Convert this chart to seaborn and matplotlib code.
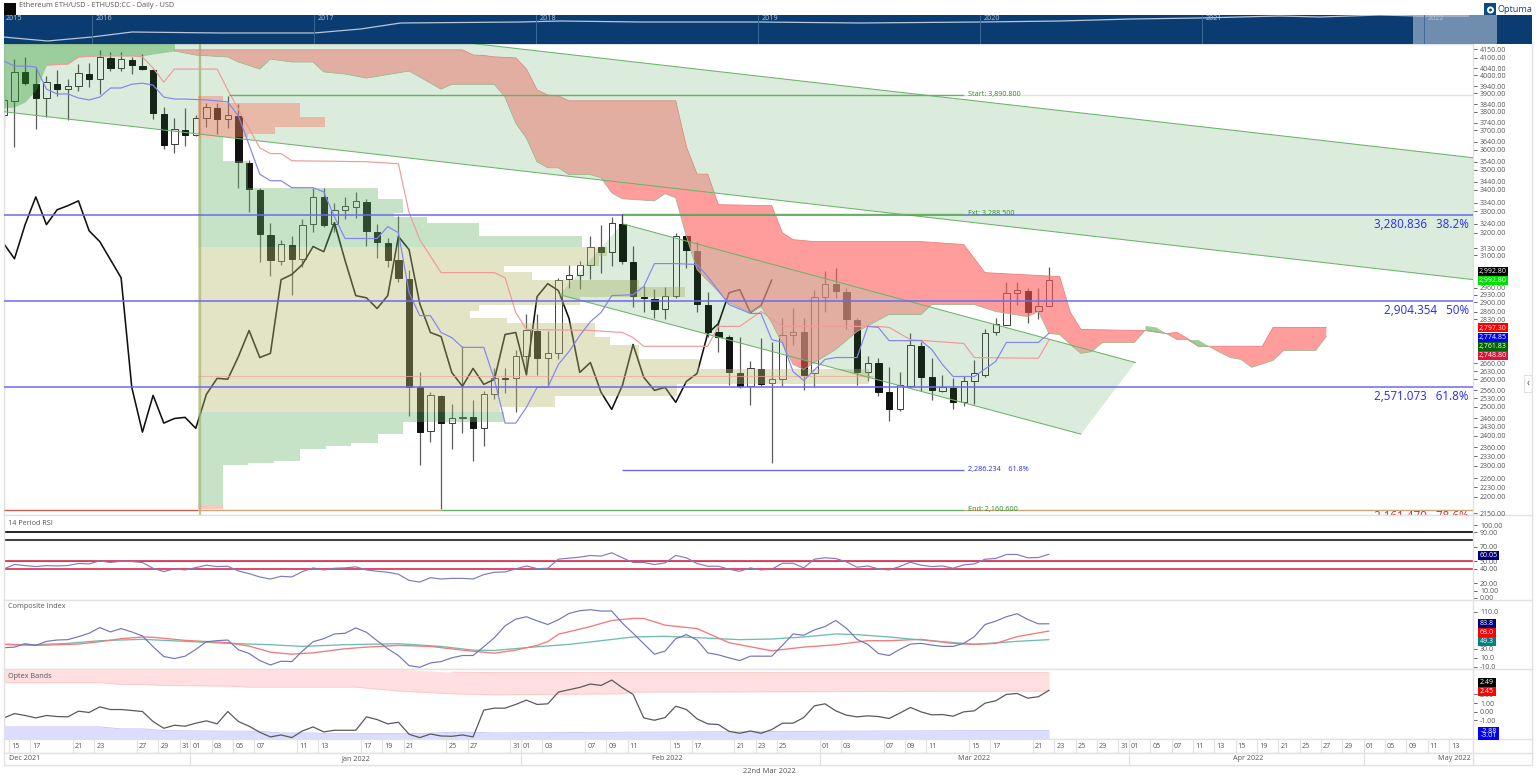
import matplotlib
matplotlib.use("Agg")
import matplotlib.pyplot as plt
from matplotlib.patches import Rectangle, Ellipse
import seaborn as sns

sns.set_theme(style="white")
plt.rcParams['font.family'] = ['Open Sans', 'DejaVu Sans']

W, H = 1536, 783

# ---------- daily OHLC, day 0 = 1 Jan 2022 ----------
first_day = -18
opens = [3781,3857,4020,3950,3874,3950,3923,3939,4008,3980,4100,4042,4088,4053,4031,3787,3629,3702,3676,3766,3820,3760,3776,3534,3401,3191,3076,3147,3084,3241,3367,3241,3306,3320,3344,3205,3156,3080,2998,2570,2415,2538,2443,2459,2463,2425,2545,2605,2603,2685,2782,2681,2697,2998,3016,3059,3138,3115,3241,3072,2923,2914,2874,2927,3183,3120,2890,2778,2762,2621,2574,2636,2585,2599,2770,2778,2621,2923,2977,2944,2829,2625,2662,2552,2491,2574,2727,2607,2556,2567,2516,2592,2617,2778,2809,2939,2948,2862,2886]
highs = [3890,4094,4106,4048,3996,4031,3980,4065,4071,4147,4135,4135,4106,4123,4036,3825,3766,3820,3781,3847,3847,3885,3841,3549,3411,3246,3165,3183,3265,3411,3411,3339,3367,3391,3358,3241,3178,3278,3037,2625,2552,2541,2509,2724,2523,2556,2640,2640,2708,2850,2850,2782,3000,3059,3076,3187,3237,3273,3288,3142,2969,2956,2965,3200,3191,3160,2944,2829,2770,2762,2666,2758,2739,2837,2878,2837,2952,3033,3046,2960,2837,2685,2678,2647,2625,2774,2739,2678,2614,2603,2610,2670,2790,2837,2982,2986,2960,2960,3050]
lows = [3720,3614,3945,3707,3771,3885,3755,3912,3934,3896,4025,4025,4008,4031,3760,3604,3584,3619,3671,3718,3681,3713,3411,3297,3069,3011,3059,2931,3050,3205,3228,3205,3265,3269,3142,3089,3050,2986,2467,2302,2378,2163,2354,2408,2314,2364,2527,2549,2481,2617,2617,2574,2674,2960,2956,2998,3024,3054,3063,2882,2858,2837,2833,2918,3046,2858,2762,2701,2577,2567,2505,2574,2308,2574,2731,2559,2570,2858,2918,2790,2577,2592,2538,2449,2484,2570,2556,2523,2552,2491,2502,2509,2607,2770,2806,2890,2817,2833,2884]
closes = [3863,4020,3956,3874,3962,3923,3939,4014,3980,4106,4042,4094,4059,4036,3793,3624,3707,3676,3766,3825,3760,3781,3539,3406,3196,3080,3151,3084,3237,3367,3237,3306,3325,3348,3209,3160,3080,3002,2570,2412,2541,2443,2459,2463,2425,2545,2603,2600,2685,2786,2681,2697,2994,3016,3059,3138,3115,3246,3076,2927,2918,2874,2927,3183,3124,2894,2778,2762,2625,2574,2640,2581,2599,2770,2778,2617,2923,2977,2948,2833,2625,2662,2552,2491,2577,2731,2607,2559,2570,2516,2592,2621,2774,2813,2939,2952,2858,2886,2992.8]

# ---------- ichimoku ----------
kijun_days = [-14,-12,-11,-9,-6,-5,-4,-3,-2,2,3,6,7,8,9,16,19,20,21,23,28,29,30,31,37,40,41,42,48,49,51,53,55,64,65,67,72,73,79,80]
kijun = [4059,4065,4106,4112,4112,4106,4042,3962,4036,4036,3918,3609,3580,3580,3544,3539,3529,3292,3169,3024,3024,3002,2858,2790,2786,2778,2758,2724,2724,2802,2802,2862,2802,2802,2798,2750,2735,2681,2678,2748.8]
tenkan_days = [-18,-17,-16,-15,-14,-13,-12,-11,-10,-9,-8,-7,-6,-5,-4,-3,-2,-1,1,2,3,4,5,6,7,8,9,11,12,13,14,17,18,19,20,21,22,23,24,25,27,28,29,30,31,32,33,34,35,36,37,38,39,41,42,43,45,47,48,50,52,53,54,55,56,57,59,60,62,63,64,65,68,69,70,71,73,75,76,79,80]
tenkan = [4082,4053,4053,4048,3923,3896,3896,3874,3863,3879,3929,3929,3950,3956,3945,3879,3868,3868,3863,3858,3852,3776,3624,3477,3445,3445,3411,3411,3391,3273,3174,3174,3228,3200,2939,2845,2845,2778,2758,2720,2720,2599,2443,2443,2498,2570,2570,2655,2704,2766,2821,2858,2927,2931,2965,3063,3063,3059,3007,2890,2854,2854,2750,2739,2628,2595,2674,2681,2681,2802,2798,2746,2746,2712,2655,2610,2610,2666,2739,2739,2774.85]
cloud_upper_days = [-2,25,26,27,28,30,31,32,33,34,35,45,46,47,48,49,54,55,56,58,68,72,74,81,82,83,88,89,91,92,93,94,95,100,101,106]
cloud_upper = [4147,4147,4117,4114,4106,4100,4036,3918,3890,3885,3858,3858,3614,3477,3477,3330,3325,3200,3169,3160,3160,3147,3024,3007,2858,2790,2786,2786,2774,2778,2754,2724,2724,2724,2798,2798]
cloud_lower_days = [-2,0,3,4,6,7,9,11,12,14,16,20,21,23,24,28,29,30,31,32,33,34,35,37,38,39,40,43,44,45,46,47,50,52,53,54,56,57,58,60,62,65,68,69,73,75,78,79,80,81,82,83,84,85,88,89,91,92,93,94,95,96,97,98,99,101,102,105,106]
cloud_lower = [4141,4117,4106,4077,4036,4094,4077,4077,4020,4008,3985,4025,3991,3923,3950,3950,3879,3739,3660,3539,3509,3509,3475,3475,3460,3386,3358,3348,3382,3363,3183,3037,2898,2858,2882,2817,2655,2636,2662,2712,2782,2850,2850,2890,2890,2862,2841,2862,2774,2770,2731,2697,2704,2739,2739,2786,2774,2750,2750,2724,2724,2701,2681,2674,2644,2670,2708,2708,2762]
bull_cloud_days = [-18,-17,-16,-15,-14,-12,-11,-9,-5,-4,-2]
bull_cloud_lower = [3820,3825,3852,3918,4059,4065,4106,4112,4112,4123,4141]
twist1_days = [89,90,91]
twist1_top = [2806,2800,2774]
twist1_bot = [2786,2780,2774]
twist2_days = [93,94,95]
twist2_top = [2750,2750,2724]
twist2_bot = [2750,2724,2724]

# ---------- regression channels (day, price) ----------
wide_upper = [(-18, 4515), (119.8, 3559)]
wide_lower = [(-18, 3799), (119.8, 2994)]
narrow_channel = [(40, 3241), (88.1, 2662), (83, 2405), (34.1, 2931)]

# ---------- volume profile ----------
profile_edges = [3885,3847,3771,3718,3681,3665,3544,3411,3358,3292,3273,3246,3183,3138,3098,3054,3028,2994,2965,2923,2890,2862,2837,2817,2762,2731,2674,2636,2581,2538,2498,2481,2446,2405,2375,2364,2354,2314,2308,2302,2175,2163]
profile_vol = [2.34,9.55,11.9,7.2,4.7,2.34,4.7,16.85,19.2,18.4,21.5,26.4,36,38.4,37.6,28.7,31.3,41.4,45.7,35.8,26.4,25.5,29,37.2,38.6,41.4,47,62.9,44.9,33.5,28.3,28.7,19.2,16.85,14.4,12,9.55,7.1,4.7,2.34,2.34]
profile_kind = ['p']*5 + ['g']*8 + ['k']*18 + ['g']*9 + ['p']
poc_price = 2610

# ---------- fibonacci levels ----------
fib_start, fib_ext, fib_end = 3890.8, 3288.5, 2160.6
fib_levels = [3280.836, 2904.354, 2571.073]
fib_level_text = ["3,280.836   38.2%", "2,904.354   50%", "2,571.073   61.8%"]

# ---------- RSI ----------
rsi_days = list(range(-18, 81))
rsi = [39.8,45.8,44.4,43,44.4,43.9,44.4,47.2,46.7,50.9,48.6,50.4,50,48.6,40.7,36.1,39.8,38.4,41.6,44.9,43,43.5,37,33.3,28.7,25.9,29.6,28.7,36.1,41.2,38.4,40.7,41.2,42.6,38.4,36.5,35.2,32.4,24,21.7,27.7,25.9,26.8,26.8,25.9,31.9,35.2,35.6,39.8,43.9,40.2,40.7,53.2,54.6,56,58.3,57.4,62,55.1,48.6,48.6,45.8,48.1,58.3,55.1,47.2,43.5,43.5,39.3,36.5,41.2,38.4,39.3,47.6,47.6,41.2,53.2,55.1,54.1,49.5,42.1,43.9,39.8,38.4,43,49,44.9,43,43.9,40.7,45.3,46.7,53.2,54.1,59.7,59.7,55.1,55.5,60.05]

# ---------- composite index ----------
ci = [31.7,33.1,40.5,36.8,45.6,48.5,49.3,55.8,63.2,75.6,66.1,73.4,66.1,57.3,33.9,12.6,8.2,13.4,28,44.9,47.1,48.5,27.3,19.2,3.8,-5.7,2.4,1.6,24.4,44.9,51.4,61.7,63.2,74.9,65.4,47.1,29.5,14.8,-7.2,-10.8,-1.3,1.6,9.7,14.8,14.8,33.9,53.6,79.3,93.9,99.1,90.3,82.2,92.5,106.4,112.2,114.4,111.5,111.5,85.1,63.2,40.5,17.7,24.4,51.4,60.2,48.5,20.7,16.3,9.7,3.8,13.4,13.4,13.4,36.8,61.7,58.8,70.5,77.8,91,74.2,50,39,19.2,14.8,28,39.7,41.2,37.5,34.6,34.6,41.2,55.8,82.2,89.5,99.1,105.7,93.2,83.7,83.8]
ci_fast_days = [-18,-15,-11,-9,-7,-5,-4,-1,3,5,7,9,11,14,16,19,22,25,28,30,32,33,34,37,39,41,42,44,47,50,54,57,60,63,65,68,71,73,75,77,80]
ci_fast = [39,36.8,39.7,44.9,51.4,55.1,54.4,47.8,42.7,35.3,22.1,17.7,20.7,29.5,33.1,36.8,34.6,26.5,19.9,26.5,36.8,44.9,61,77.8,91,95.4,95.4,80.8,73.4,42.7,25.1,33.1,38.2,47,47,50,41.2,39,41.2,55.8,68]
ci_slow_days = [-18,-15,-12,-9,-5,-1,3,7,10,14,19,23,26,28,32,35,38,41,44,47,51,54,57,60,62,65,68,72,73,77,80]
ci_slow = [39,38.3,41.2,47,50,45.6,41.2,38.3,34.6,38.3,40.5,34.6,26.5,25.8,33.9,39,47,55.1,56.6,53.6,49.3,50.7,55.1,61.7,60.2,55.1,48.5,41.2,39,45.6,49.3]

# ---------- optex ----------
optex = [-0.71,-0.21,-0.43,-0.71,-0.43,-0.55,-0.59,0.07,-0.08,0.57,0.26,0.26,0.15,0.03,-1.13,-1.91,-1.56,-1.67,-1.32,-1.05,-1.4,0.03,-1.13,-1.67,-2.37,-2.91,-2.68,-2.99,-2.22,-1.75,-2.33,-2.14,-2.14,-2.14,-0.59,-0.9,-1.4,-1.21,-2.6,-2.99,-2.57,-2.8,-2.84,-2.68,-2.91,0.19,0.42,0.42,0.85,1.35,0.85,0.92,2.28,2.55,2.82,3.21,3.05,3.67,2.78,2.01,-0.71,-0.98,-0.67,0.65,0.26,-0.82,-1.4,-1.48,-2.26,-2.49,-2.22,-2.49,-2.06,-1.32,-1.32,-0.67,0.69,0.92,0.11,-0.39,-0.59,-0.47,-0.55,-0.78,-0.16,0.5,-0.01,-0.36,-0.32,-0.51,-0.01,0.11,1.0,1.27,2.01,2.12,1.58,1.74,2.49]
band_days = [-18,-9,-7,-5,-3,3,5,15,19,24,28,32,40,41,80]
band_up_low = [3.37,3.37,3.17,3.17,3.05,2.98,2.86,2.86,2.4,2.09,1.97,2.01,2.09,2.28,2.4]
band_up_top = [4.92,4.92,4.92,4.92,4.92,4.92,4.92,4.92,4.92,4.58,4.53,4.53,4.53,4.53,4.53]
band_low_days = [-18,-9,-7,-5,-3,3,6,8,11,12,21,24,26,28,40,60,74,80]
band_low_top = [-1.75,-1.75,-1.98,-1.98,-2.18,-2.25,-2.25,-2.45,-2.45,-2.53,-2.53,-2.37,-2.37,-2.45,-2.37,-2.25,-2.18,-2.18]

# ---------- axis text ----------
main_ticks = [4150,4100,4040,4000,3940,3900,3840,3800,3740,3700,3640,3600,3540,3500,3440,3400,3340,3300,3240,3200,3130,3100,2960,2930,2900,2860,2830,2660,2630,2600,2560,2530,2500,2460,2430,2400,2360,2330,2300,2260,2230,2200,2150]
rsi_ticks = [100,90,70,50,40,20,10,0]
ci_ticks = [110,30,10,-10]
opt_ticks = [2,1,0,-1]
date_ticks = [-17,-15,-11,-9,-5,-3,-1,0,2,4,6,10,12,16,18,20,24,26,30,31,33,37,39,41,45,47,51,53,55,59,61,65,67,69,73,75,79,81,83,85,87,88,90,92,94,96,98,100,102,104,106,108,110,112,114,116,118]
date_text = "15 17 21 23 27 29 31 01 03 05 07 11 13 17 19 21 25 27 31 01 03 07 09 11 15 17 21 23 25 01 03 07 09 11 15 17 21 23 25 29 31 01 05 07 11 13 15 19 21 25 27 29 01 05 09 11 13".split()
month_seps = [-0.5,30.5,58.5,87.5,109.5]
month_pos = [-16,15,44.2,73,98.7,118]
month_text = ["Dec 2021","Jan 2022","Feb 2022","Mar 2022","Apr 2022","May 2022"]

# ---------- navigator ----------
nav_years = [2015.60,2015.80,2016,2016.18,2016.58,2017.0,2017.21,2017.39,2017.93,2018.11,2018.47,2019.01,2019.46,2020,2020.36,2020.68,2020.99,2021.35,2021.53,2021.8,2021.98,2022.2]
nav_level = [7,3,7,12,11,11,15,21,22,23,22,22,21,22,23,25,26,28,27,29,28,28]
nav_labels = [2016,2017,2018,2019,2020,2021,2022]

# ---------- layout helpers ----------
def axpx(l, t, r, b, **kw):
    return fig.add_axes([l/W, 1-b/H, (r-l)/W, (b-t)/H], **kw)

fig = plt.figure(figsize=(W/100, H/100), dpi=100, facecolor='white')
GRID = '#e2e2e2'
TXT = '#555555'
XLIM = (-17.98, 119.75)

ax = axpx(4, 44, 1473, 515)
ax_rsi = axpx(4, 515, 1473, 600, sharex=ax)
ax_ci = axpx(4, 600, 1473, 669, sharex=ax)
ax_opt = axpx(4, 669, 1473, 739, sharex=ax)
ax_date = axpx(4, 739, 1473, 753, sharex=ax)
ax_month = axpx(4, 753, 1473, 765, sharex=ax)

# ---------- price pane ----------
ax.set_yscale('log')
days = list(range(first_day, first_day + len(opens)))
for d, o, h, l, c in zip(days, opens, highs, lows, closes):
    ax.vlines(d, l, h, color='#5c5c5c', lw=0.9, zorder=2)
    up = c >= o
    ax.bar(d, abs(c-o), bottom=min(o, c), width=0.6,
           facecolor='white' if up else '#111111',
           edgecolor='#3c3c3c' if up else '#111111', lw=0.7, zorder=2.2)

# lagging span: close plotted 26 days back
sns.lineplot(x=[d-26 for d in days[26:]], y=closes[26:], ax=ax, color='#111111', lw=1.15,
             estimator=None, errorbar=None, zorder=2.5)

# volume profile
colors = {'p': ('#ff6e5a', 0.40), 'g': ('#64b264', 0.36), 'k': ('#b9b96c', 0.39)}
for i, v in enumerate(profile_vol):
    col, al = colors[profile_kind[i]]
    ax.barh(profile_edges[i+1], v, height=profile_edges[i]-profile_edges[i+1], left=0.2,
            align='edge', color=col, alpha=al, lw=0, zorder=3.55 if profile_kind[i] == 'p' else 3)
ax.hlines(poc_price, 0.2, 63.5, color='#eaa79c', lw=0.8, alpha=0.7, zorder=3.1)
ax.axvline(0.42, color='#a9b56f', lw=1.7, alpha=0.7, zorder=3.2)

# cloud
ax.fill_between(bull_cloud_days, bull_cloud_lower, [4300]*len(bull_cloud_days),
                color='#35a035', alpha=0.38, lw=0, zorder=3.3)
cx = cloud_upper_days + cloud_lower_days[::-1]
cy = cloud_upper + cloud_lower[::-1]
ax.fill(cx, cy, facecolor='#ff5c5c', alpha=0.6, lw=0, zorder=3.3)
ax.fill_between(twist1_days, twist1_bot, twist1_top, color='#35a035', alpha=0.5, lw=0, zorder=3.3)
ax.fill_between(twist2_days, twist2_bot, twist2_top, color='#35a035', alpha=0.5, lw=0, zorder=3.3)
ax.plot(cloud_upper_days, cloud_upper, color='#f08080', lw=0.6, zorder=3.4)
ax.plot(cloud_lower_days, cloud_lower, color='#a5b492', lw=0.6, zorder=3.4)

# channels
gx = [wide_upper[0][0], wide_upper[1][0], wide_lower[1][0], wide_lower[0][0]]
gy = [wide_upper[0][1], wide_upper[1][1], wide_lower[1][1], wide_lower[0][1]]
CH_G = '#2a8c2a'
wide_patch = ax.fill(gx, gy, facecolor=CH_G, alpha=0.16, lw=0, zorder=3.5)[0]
ax.plot(gx[:2], gy[:2], color='#6ab46a', lw=0.75, zorder=3.6)
ax.plot(gx[2:], gy[2:], color='#6ab46a', lw=0.75, zorder=3.6)
nx = [p[0] for p in narrow_channel]
ny = [p[1] for p in narrow_channel]
narrow_patch = ax.fill(nx, ny, facecolor=CH_G, alpha=0.16, lw=0, zorder=3.5)[0]
ax.plot(nx[:2], ny[:2], color='#6ab46a', lw=0.75, zorder=3.6)
ax.plot(nx[2:], ny[2:], color='#6ab46a', lw=0.75, zorder=3.6)
# lighter salmon where the cloud lies under a channel
for patch in (wide_patch, narrow_patch):
    veil = ax.fill(cx, cy, facecolor='white', alpha=0.2, lw=0, zorder=3.52)[0]
    veil.set_clip_path(patch)

# tenkan / kijun
sns.lineplot(x=kijun_days, y=kijun, ax=ax, color='#f09a9a', lw=0.85, estimator=None, errorbar=None, zorder=3.7)
sns.lineplot(x=tenkan_days, y=tenkan, ax=ax, color='#8484f0', lw=0.85, estimator=None, errorbar=None, zorder=3.7)

# fibonacci lines
for lv, t in zip(fib_levels, fib_level_text):
    ax.axhline(lv, color='#6a6aee', lw=1.1, zorder=4)
    ax.annotate(t, xy=(1, lv), xycoords=('axes fraction', 'data'), xytext=(-3, -2.2),
                textcoords='offset points', ha='right', va='top', fontsize=8.4, color='#2a2aee', zorder=5)
ax.hlines(fib_start, 3.1, 72, color='#66b066', lw=1.0, zorder=4)
ax.hlines(fib_start, 72, XLIM[1], color='#e9e4c9', lw=1.0, zorder=4)
ax.hlines(fib_ext, 40, 72, color='#66b066', lw=1.0, zorder=4)
ax.hlines(2286.234, 40, 72, color='#6a6aee', lw=1.0, zorder=4)
ax.hlines(fib_end, XLIM[0], 0.2, color='#c8604f', lw=1.0, zorder=4)
ax.hlines(fib_end, 0.2, 23, color='#cba67a', lw=1.0, zorder=4)
ax.hlines(fib_end, 23, 72, color='#66b066', lw=1.0, zorder=4)
ax.hlines(fib_end, 72, XLIM[1], color='#cba67a', lw=1.0, zorder=4)
ax.vlines(40, 3241, fib_ext, color='#444444', lw=0.8, zorder=4)
for yv, t, col in [(fib_start, 'Start: 3,890.800', '#2e8b2e'), (fib_ext, 'Fxt: 3,288.500', '#2e8b2e'),
                   (2286.234, '2,286.234    61.8%', '#2a2aee'), (fib_end, 'End: 2,160.600', '#2e8b2e')]:
    ax.annotate(t, xy=(72, yv), xytext=(3, 0), textcoords='offset points', ha='left', va='center',
                fontsize=5.2, color=col, zorder=5, annotation_clip=False)
low_tag = ax.annotate('2,161.479   78.6%', xy=(1, 2161.479), xycoords=('axes fraction', 'data'), xytext=(-3, -0.6),
                      textcoords='offset points', ha='right', va='top', fontsize=8.4, color='#d03030', zorder=5)
low_tag.set_clip_on(True)

ax.set_ylim(2144.5, 4182)
ax.set_yticks(main_ticks)
ax.set_yticklabels([f"{t}.00" for t in main_ticks])
ax.minorticks_off()

# ---------- RSI ----------
ax_rsi.axhline(90, color='black', lw=1.2)
ax_rsi.axhline(79, color='#444444', lw=1.5)
ax_rsi.axhline(51, color='#f4a8b4', lw=0.8)
ax_rsi.axhline(50, color='#dc143c', lw=1.1)
ax_rsi.axhline(40, color='#dc143c', lw=1.1)
sns.lineplot(x=rsi_days, y=rsi, ax=ax_rsi, color='#7c7cc0', lw=0.85, estimator=None, errorbar=None)
ax_rsi.set_ylim(-3, 114)
ax_rsi.set_yticks(rsi_ticks)
ax_rsi.set_yticklabels([f"{t:.2f}" for t in rsi_ticks])

# ---------- composite ----------
sns.lineplot(x=ci_slow_days, y=ci_slow, ax=ax_ci, color='#6fbdae', lw=0.95, estimator=None, errorbar=None)
sns.lineplot(x=ci_fast_days, y=ci_fast, ax=ax_ci, color='#f27a7a', lw=0.95, estimator=None, errorbar=None)
sns.lineplot(x=rsi_days, y=ci, ax=ax_ci, color='#7474bd', lw=0.85, estimator=None, errorbar=None)
ax_ci.set_ylim(-14.5, 135.5)
ax_ci.set_yticks(ci_ticks)
ax_ci.set_yticklabels([f"{t:.1f}" for t in ci_ticks])

# ---------- optex ----------
ax_opt.fill_between(band_days, band_up_low, band_up_top, color='#ffdfdf', lw=0)
ax_opt.plot(band_days, band_up_low, color='#ffc8c8', lw=0.7)
ax_opt.plot(band_days[9:], band_up_top[9:], color='#ffc8c8', lw=0.7)
ax_opt.fill_between(band_low_days, -3.15, band_low_top, color='#dcdcff', lw=0)
ax_opt.plot(band_low_days, band_low_top, color='#c8c8ff', lw=0.7)
sns.lineplot(x=rsi_days, y=optex, ax=ax_opt, color='#5a5a5a', lw=0.9, estimator=None, errorbar=None)
ax_opt.set_ylim(-3.15, 4.95)
ax_opt.set_yticks(opt_ticks)
ax_opt.set_yticklabels([f"{t:.2f}" for t in opt_ticks])

# ---------- common pane styling ----------
for a in (ax, ax_rsi, ax_ci, ax_opt):
    a.yaxis.tick_right()
    a.tick_params(axis='y', length=3, width=0.7, color='#666666', labelsize=5.0, labelcolor=TXT, pad=2, right=True, left=False)
    a.tick_params(axis='x', length=0, labelbottom=False)
    a.set_xlabel(''); a.set_ylabel('')
    a.grid(False)
    for s in ('top', 'left', 'bottom', 'right'):
        a.spines[s].set_color(GRID); a.spines[s].set_linewidth(1.0)
ax.set_xlim(*XLIM)

ax_rsi.text(0.0025, 0.9, '14 Period RSI', transform=ax_rsi.transAxes, fontsize=5.2, color=TXT, va='center')
ax_ci.text(0.0025, 0.9, 'Composite Index', transform=ax_ci.transAxes, fontsize=5.2, color=TXT, va='center')
ax_opt.text(0.0025, 0.9, 'Optex Bands', transform=ax_opt.transAxes, fontsize=5.2, color=TXT, va='center')

# ---------- date strips ----------
for a in (ax_date, ax_month):
    a.set_yticks([])
    for s in a.spines.values():
        s.set_color(GRID); s.set_linewidth(1.0)
ax_date.tick_params(axis='x', length=0, labelbottom=False)
for d, t in zip(date_ticks, date_text):
    ax_date.text(d + 0.08, 0.5, t, ha='center', va='center', fontsize=5.2, color=TXT)
    ax_date.axvline(d - 0.5, color=GRID, lw=0.9)
ax_month.tick_params(axis='x', length=0, labelbottom=False)
for d in month_seps:
    ax_month.axvline(d, color=GRID, lw=0.9)
for d, t in zip(month_pos, month_text):
    ax_month.text(d, 0.5, t, ha='center', va='center', fontsize=5.2, color=TXT)
ax_month.set_xlim(*XLIM)
fig.text(769/W, 1-771.5/H, '22nd Mar 2022', ha='center', va='center', fontsize=5.4, color=TXT)

# ---------- navigator ----------
nav = axpx(4, 15, 1532, 44)
nav.set_facecolor('#0a3c72')
sns.lineplot(x=nav_years, y=nav_level, ax=nav, color='#b8c6d8', lw=0.9, estimator=None, errorbar=None)
nav.set_xlim(2015.604, 2022.486)
nav.set_ylim(0, 29)
nav.set_xticks([]); nav.set_yticks([]); nav.set_xlabel(''); nav.set_ylabel('')
for s in nav.spines.values():
    s.set_visible(False)
nav.text(2015.61, 25, '2015', fontsize=5.2, color='#b8c6d8', va='center')
for y in nav_labels:
    nav.axvline(y, color='#3f6a98', lw=0.7)
    nav.text(y + 0.015, 25, str(y), fontsize=5.2, color='#b8c6d8', va='center')
nav.axvspan(2021.95, 2022.33, color='#b9c9dc', alpha=0.58, lw=0)

# ---------- header ----------
fig.add_artist(Rectangle((4/W, 1-15/H), 12/W, 12/H, transform=fig.transFigure, facecolor='#0a0a0a', lw=0))
fig.text(19/W, 1-5.5/H, 'Ethereum ETH/USD - ETHUSD:CC - Daily - USD', fontsize=5.2, color=TXT, va='center')
fig.add_artist(Rectangle((1484/W, 1-15/H), 12/W, 12/H, transform=fig.transFigure, facecolor='#0d4a80', lw=0))
fig.add_artist(Ellipse((1490.5/W, 1-10/H), 7/W, 7/H, transform=fig.transFigure, facecolor='white', lw=0))
fig.add_artist(Ellipse((1490.5/W, 1-10/H), 3/W, 3/H, transform=fig.transFigure, facecolor='#0d4a80', lw=0))
fig.text(1497/W, 1-9/H, 'Optuma', fontsize=6.6, color='#0d4a80', va='center')

# ---------- value tags ----------
def tag(y, text, bg, w=30):
    fig.add_artist(Rectangle((1478/W, 1-(y+4.5)/H), w/W, 9/H, transform=fig.transFigure, facecolor=bg, lw=0, zorder=9))
    fig.text((1478+w/2)/W, 1-(y+0.3)/H, text, ha='center', va='center', fontsize=5.0, color='white', zorder=10)

for y, t, c, w in [(271,'2,992.80','#000000',30),(280,'2,992.80','#00e000',30),(328,'2,797.30','#ff0000',30),
                   (337,'2,774.85','#0000ff',30),(346.5,'2,761.83','#006400',30),(355.5,'2,748.80','#dc143c',30),
                   (555,'60.05','#000080',21),(623,'83.8','#000080',18),(632,'68.0','#ff0000',18),(641,'49.3','#008080',18),
                   (682,'2.49','#000000',18),(691,'2.45','#ff0000',18),(731,'-2.88','#0000ff',21),(735.5,'-3.01','#0000ff',21)]:
    tag(y, t, c, w)

# ---------- outer frame ----------
fig.add_artist(plt.Line2D([1532/W, 1532/W], [1-44/H, 1-765/H], transform=fig.transFigure, color=GRID, lw=1))
for y in (515, 600, 669, 739, 753, 765):
    fig.add_artist(plt.Line2D([4/W, 1532/W], [1-y/H, 1-y/H], transform=fig.transFigure, color=GRID, lw=1, zorder=0))
fig.add_artist(Rectangle((1524/W, 1-392/H), 8/W, 17/H, transform=fig.transFigure, facecolor='white', edgecolor=GRID, lw=0.8))
fig.text(1528/W, 1-383.5/H, '‹', ha='center', va='center', fontsize=7, color='#444444')

fig.savefig('out.png', dpi=100, facecolor='white')
